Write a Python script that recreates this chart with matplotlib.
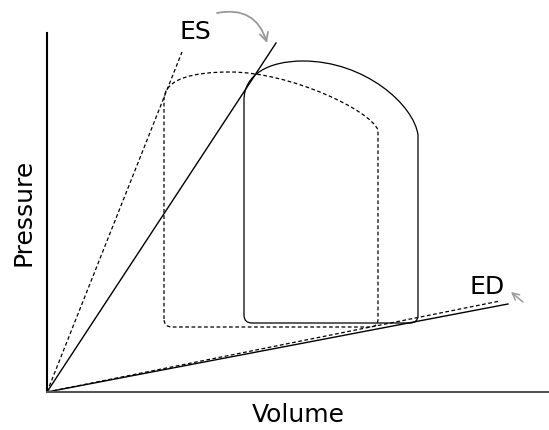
import matplotlib

matplotlib.use("Agg")

import matplotlib.pyplot as plt
from matplotlib.path import Path
from matplotlib.patches import PathPatch

# pressure-volume loops (arbitrary units)
normal_vol = [197, 197, 205, 363, 371, 371, 371, 367, 318, 256, 221, 197, 197, 197]
normal_pres = [77, 69, 69, 69, 69, 77, 257, 287, 331, 331, 331, 317, 292, 77]
normal_codes = [Path.MOVETO, Path.CURVE3, Path.CURVE3, Path.LINETO, Path.CURVE3, Path.CURVE3,
                Path.LINETO, Path.CURVE4, Path.CURVE4, Path.CURVE4, Path.CURVE4, Path.CURVE4,
                Path.CURVE4, Path.LINETO]

shifted_vol = [117, 117, 117, 148, 183, 243, 323, 331, 331, 331, 323, 125, 117, 117]
shifted_pres = [73, 292, 314, 320, 320, 320, 282, 262, 73, 65, 65, 65, 65, 73]
shifted_codes = [Path.MOVETO, Path.LINETO, Path.CURVE4, Path.CURVE4, Path.CURVE4, Path.CURVE4,
                 Path.CURVE4, Path.CURVE4, Path.LINETO, Path.CURVE3, Path.CURVE3, Path.LINETO,
                 Path.CURVE3, Path.CURVE3]

# end-systolic / end-diastolic pressure-volume relations (from origin)
es_vol = [0, 229]
es_pres = [0, 349]
es2_vol = [0, 135]
es2_pres = [0, 340]
ed_vol = [0, 461]
ed_pres = [0, 88]
ed2_vol = [0, 453]
ed2_pres = [0, 91]

DASH = (0, (3, 2))

fig = plt.figure(figsize=(5.49, 4.30), dpi=100)
ax = fig.add_axes([47 / 549, 38 / 430, 502 / 549, 359 / 430])
ax.set_xlim(0, 502)
ax.set_ylim(0, 359)

ax.add_patch(PathPatch(Path(list(zip(normal_vol, normal_pres)), normal_codes),
                       facecolor="none", edgecolor="black", lw=0.9))
ax.add_patch(PathPatch(Path(list(zip(shifted_vol, shifted_pres)), shifted_codes),
                       facecolor="none", edgecolor="black", lw=0.9, linestyle=DASH))

ax.plot(es_vol, es_pres, color="black", lw=1.0, clip_on=False)
ax.plot(es2_vol, es2_pres, color="black", lw=0.9, linestyle=DASH, clip_on=False)
ax.plot(ed_vol, ed_pres, color="black", lw=1.0)
ax.plot(ed2_vol, ed2_pres, color="black", lw=0.9, linestyle=DASH)

ax.text(133, 353, "ES", fontsize=18, ha="left", va="baseline")
ax.text(422, 98, "ED", fontsize=18, ha="left", va="baseline")

ax.annotate("", xy=(220, 349), xytext=(170, 379), annotation_clip=False,
            arrowprops=dict(arrowstyle="->", color="#999999", lw=1.3, mutation_scale=15,
                            shrinkA=0, shrinkB=0, connectionstyle="arc3,rad=-0.45"))
ax.annotate("", xy=(464, 100), xytext=(476, 90), annotation_clip=False,
            arrowprops=dict(arrowstyle="->", color="#999999", lw=1.1, mutation_scale=12,
                            shrinkA=0, shrinkB=0))

ax.set_xticks([])
ax.set_yticks([])
ax.spines["top"].set_visible(False)
ax.spines["right"].set_visible(False)
ax.spines["left"].set_linewidth(1.5)
ax.spines["bottom"].set_linewidth(1.5)
ax.spines["bottom"].set_color("#555555")
ax.set_xlabel("Volume", fontsize=18, labelpad=8)
ax.set_ylabel("Pressure", fontsize=18, labelpad=8)

fig.savefig("out.png", dpi=100)
